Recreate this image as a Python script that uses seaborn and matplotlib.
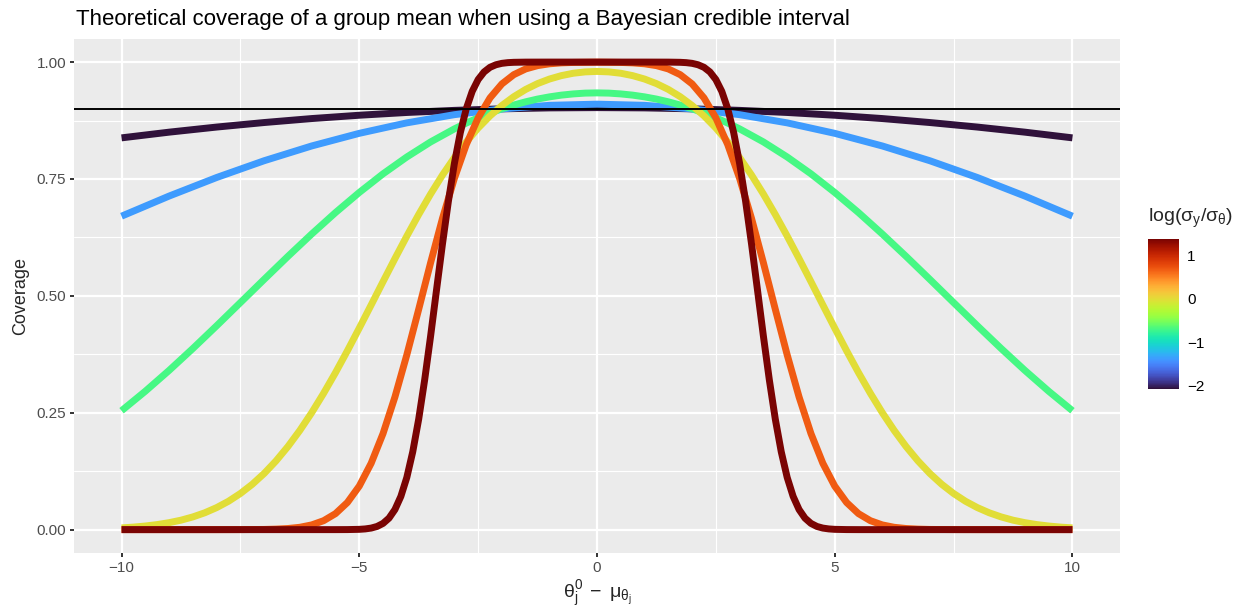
import numpy as np
import pandas as pd
import matplotlib
matplotlib.use("Agg")
import matplotlib.pyplot as plt
from matplotlib import colors as mcolors
from matplotlib import cm
from matplotlib.ticker import FormatStrFormatter
import seaborn as sns

# sigma_y / sigma_theta for each curve
ratios = [1 / 8, 1 / 4, 1 / 2, 1, 2, 4]

# Coverage of the 90% credible interval for theta_j^0 - mu >= 0;
# every curve is symmetric about 0, so the negative side mirrors these.
x_r8 = [0, 1, 2, 3, 4, 5, 6, 7, 8, 9, 10]
cov_r8 = [0.9026, 0.9020, 0.9000, 0.8967, 0.8922, 0.8863, 0.8792, 0.8707,
          0.8610, 0.8501, 0.8379]

x_r4 = [0, 1, 2, 3, 4, 5, 6, 7, 8, 9, 10]
cov_r4 = [0.9100, 0.9075, 0.8999, 0.8875, 0.8700, 0.8476, 0.8206, 0.7890,
          0.7531, 0.7134, 0.6704]

x_r2 = [0, 0.25, 0.5, 0.75, 1, 1.25, 1.5, 1.75, 2, 2.25, 2.5, 2.75, 3, 3.5,
        4, 4.5, 5, 5.5, 6, 6.5, 7, 7.5, 8, 8.5, 9, 9.5, 10]
cov_r2 = [0.9341, 0.9336, 0.9319, 0.9293, 0.9256, 0.9209, 0.9150, 0.9081,
          0.9001, 0.8909, 0.8808, 0.8695, 0.8571, 0.8292, 0.7970, 0.7610,
          0.7211, 0.6781, 0.6323, 0.5845, 0.5353, 0.4856, 0.4360, 0.3874,
          0.3405, 0.2960, 0.2543]

x_1 = [0, 0.25, 0.5, 0.75, 1, 1.25, 1.5, 1.75, 2, 2.25, 2.5, 2.75, 3, 3.25,
       3.5, 3.75, 4, 4.25, 4.5, 4.75, 5, 5.25, 5.5, 5.75, 6, 6.25, 6.5, 6.75,
       7, 7.25, 7.5, 7.75, 8, 8.25, 8.5, 8.75, 9, 9.25, 9.5, 9.75, 10]
cov_1 = [0.9800, 0.9790, 0.9761, 0.9710, 0.9637, 0.9540, 0.9415, 0.9260,
         0.9072, 0.8849, 0.8589, 0.8291, 0.7956, 0.7584, 0.7177, 0.6740,
         0.6278, 0.5797, 0.5304, 0.4805, 0.4310, 0.3825, 0.3358, 0.2916,
         0.2502, 0.2122, 0.1778, 0.1471, 0.1202, 0.0970, 0.0773, 0.0607,
         0.0471, 0.0360, 0.0272, 0.0202, 0.0149, 0.0108, 0.0077, 0.0054,
         0.0037]

x_2 = [0, 0.5, 0.75, 1, 1.25, 1.5, 1.75, 2, 2.25, 2.5, 2.75, 3, 3.25, 3.5,
       3.75, 4, 4.25, 4.5, 4.75, 5, 5.25, 5.5, 5.75, 6, 6.25, 6.5, 6.75, 7,
       7.5, 8, 10]
cov_2 = [0.9998, 0.9992, 0.9983, 0.9963, 0.9924, 0.9853, 0.9731, 0.9533,
         0.9234, 0.8806, 0.8233, 0.7511, 0.6657, 0.5707, 0.4713, 0.3738,
         0.2837, 0.2055, 0.1419, 0.0931, 0.0580, 0.0342, 0.0191, 0.0101,
         0.0050, 0.0024, 0.0011, 0.0004, 0.0001, 0.0000, 0.0000]

x_4 = [0, 1, 1.5, 1.75, 1.875, 2, 2.125, 2.25, 2.375, 2.5, 2.625, 2.75,
       2.875, 3, 3.125, 3.25, 3.375, 3.5, 3.625, 3.75, 3.875, 4, 4.125,
       4.25, 4.375, 4.5, 4.625, 4.75, 4.875, 5, 5.25, 5.5, 10]
cov_4 = [1.0000, 1.0000, 0.9999, 0.9995, 0.9988, 0.9973, 0.9943, 0.9888,
         0.9789, 0.9626, 0.9373, 0.9001, 0.8490, 0.7829, 0.7027, 0.6111,
         0.5128, 0.4137, 0.3200, 0.2364, 0.1666, 0.1116, 0.0711, 0.0429,
         0.0245, 0.0133, 0.0068, 0.0033, 0.0015, 0.0006, 0.0001, 0.0000,
         0.0000]

nominal = 0.9
x_breaks = [-10, -5, 0, 5, 10]
x_minor = [-7.5, -2.5, 2.5, 7.5]
y_breaks = [0.00, 0.25, 0.50, 0.75, 1.00]
y_minor = [0.125, 0.375, 0.625, 0.875]
bar_breaks = [-2, -1, 0, 1]

halves = [(x_r8, cov_r8), (x_r4, cov_r4), (x_r2, cov_r2),
          (x_1, cov_1), (x_2, cov_2), (x_4, cov_4)]
frames = []
for r, (hx, hy) in zip(ratios, halves):
    hx = np.asarray(hx, float)
    hy = np.asarray(hy, float)
    frames.append(pd.DataFrame({
        "diff": np.concatenate([-hx[:0:-1], hx]),
        "coverage": np.concatenate([hy[:0:-1], hy]),
        "log_ratio": np.log(r),
    }))
df = pd.concat(frames, ignore_index=True)

sns.set_theme(style="darkgrid")
plt.rcParams["font.family"] = ["Liberation Sans", "DejaVu Sans"]
plt.rcParams["mathtext.fontset"] = "custom"
plt.rcParams["mathtext.rm"] = "Liberation Sans"
plt.rcParams["mathtext.it"] = "Liberation Sans:italic"
plt.rcParams["mathtext.default"] = "rm"

fig = plt.figure(figsize=(12.42, 6.10), dpi=100)
ax = fig.add_axes([0.05958, 0.09344, 0.84219, 0.84312])
ax.set_facecolor("#EBEBEB")

norm = mcolors.Normalize(vmin=np.log(min(ratios)), vmax=np.log(max(ratios)))
sns.lineplot(data=df, x="diff", y="coverage", hue="log_ratio",
             palette="turbo", hue_norm=norm, estimator=None, linewidth=5,
             legend=False, ax=ax, solid_capstyle="butt",
             solid_joinstyle="round")
ax.axhline(nominal, color="black", lw=1.4)

ax.set_xlim(-11, 11)
ax.set_ylim(-0.05, 1.05)
ax.set_xticks(x_breaks)
ax.set_xticks(x_minor, minor=True)
ax.set_yticks(y_breaks)
ax.set_yticks(y_minor, minor=True)
ax.yaxis.set_major_formatter(FormatStrFormatter("%.2f"))
ax.grid(which="major", color="white", lw=1.6)
ax.grid(which="minor", color="white", lw=0.8)
ax.set_axisbelow(True)
for s in ax.spines.values():
    s.set_visible(False)
ax.tick_params(which="major", length=3.2, width=1.4, color="#333333",
               labelcolor="#4D4D4D", labelsize=11, pad=2.5,
               bottom=True, left=True)
ax.tick_params(which="minor", length=0)

ax.set_xlabel(r"$\theta_j^0\;-\;\mu_{\theta_j}$", fontsize=14, labelpad=3)
ax.set_ylabel("Coverage", fontsize=13, labelpad=5)

fig.text(76 / 1242, 1 - 25 / 610,
         "Theoretical coverage of a group mean when using a Bayesian credible interval",
         fontsize=16, ha="left", va="baseline", color="black")

# Continuous colour legend
cax = fig.add_axes([1148 / 1242, 1 - 389 / 610, 31 / 1242, 150 / 610])
sm = cm.ScalarMappable(norm=norm, cmap="turbo")
cb = fig.colorbar(sm, cax=cax, ticks=bar_breaks)
cb.outline.set_visible(False)
cax.tick_params(direction="in", color="white", length=3.6, width=1,
                left=True, right=True, labelleft=False, labelright=True,
                labelsize=11, labelcolor="black", pad=6)
fig.text(1148 / 1242, 1 - 222 / 610, r"log($\sigma_y$/$\sigma_\theta$)",
         fontsize=14, ha="left", va="baseline")

fig.savefig("out.png", dpi=100, facecolor="white")
